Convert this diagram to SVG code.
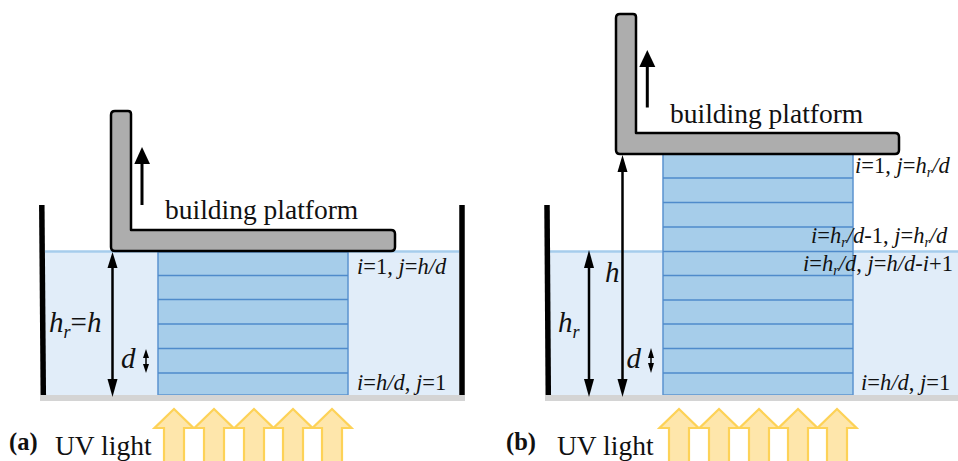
<svg xmlns="http://www.w3.org/2000/svg" width="958" height="461" viewBox="0 0 958 461">
<style>
text{font-family:"Liberation Serif",serif;fill:#111}
.i{font-style:italic}
.n{font-style:normal}
.m{font-size:27.500px}
.s{font-size:22.500px}
.lb{font-size:29px}
.sub{font-size:18px}
.ss{font-size:14px}
.bold{font-size:24.500px;font-weight:bold}
.wall{stroke:#000;stroke-width:5.500;fill:none}
.surf{stroke:#a6cdec;stroke-width:2.500}
.water{fill:#e1edf9}
.floor{fill:#d4d4d4}
.block{fill:#a6cdea;stroke:#5b93cf;stroke-width:1.500}
.layer{stroke:#4f8bcb;stroke-width:1.500;fill:none}
.plat{fill:#adadad;stroke:#000;stroke-width:2.500;stroke-linejoin:round}
.uv{fill:#fee6ab;stroke:#fdd257;stroke-width:2.200}
.dim{stroke:#000;stroke-width:2.500;fill:none}
.lift{stroke:#000;stroke-width:3;fill:none}
.tiny{stroke:#000;stroke-width:1.500;fill:none}
.ah{fill:#000}
</style>
<defs>
<path id="up" class="uv" d="M-10,60V19H-19.500L0,0L19.500,19H10V60"/>
</defs>
<g id="panel-a">
<g id="water-a"><rect class="water" x="45" y="251" width="414" height="144"/><line class="surf" x1="45" y1="251.500" x2="459" y2="251.500"/></g>
<g id="block-a"><rect class="block" x="158" y="252" width="190" height="143"/>
<path class="layer" d="M158 275.500H348M158 299.500H348M158 324H348M158 348.500H348M158 373H348"/></g>
<rect id="floor-a" class="floor" x="40" y="395" width="425" height="6"/>
<path id="wall-a-left" class="wall" d="M41.800 205L43.300 395"/>
<path id="wall-a-right" class="wall" d="M462 205V395"/>
<path id="platform-a" class="plat" d="M115 111H128Q131 111 131 114V230H391Q395 230 395 234V247Q395 251 391 251H115Q111 251 111 247V115Q111 111 115 111Z"/>
<g id="uv-a"><use href="#up" x="174" y="409"/><use href="#up" x="214" y="409"/><use href="#up" x="254" y="409"/><use href="#up" x="293" y="409"/><use href="#up" x="332" y="409"/></g>
</g>
<g id="panel-b">
<g id="water-b"><rect class="water" x="550" y="251" width="408" height="144"/><line class="surf" x1="550" y1="251.500" x2="958" y2="251.500"/></g>
<g id="block-b"><rect class="block" x="663" y="154" width="190" height="241"/>
<path class="layer" d="M663 178H853M663 202.500H853M663 227H853M663 251.500H853M663 275.500H853M663 300H853M663 324H853M663 348.500H853M663 373H853"/></g>
<rect id="floor-b" class="floor" x="545" y="395" width="413" height="6"/>
<path id="wall-b-left" class="wall" d="M547 205L548.300 395"/>
<path id="platform-b" class="plat" d="M620 14H633Q636 14 636 17V133H895Q899 133 899 137V150Q899 154 895 154H620Q616 154 616 150V18Q616 14 620 14Z"/>
<g id="uv-b"><use href="#up" x="679" y="409"/><use href="#up" x="719" y="409"/><use href="#up" x="759" y="409"/><use href="#up" x="798" y="409"/><use href="#up" x="837" y="409"/></g>
</g>
<g id="connectors">
<path class="lift" d="M142 205V160"/><polygon class="ah" points="142,147 134.300,164 150,164"/>
<path class="lift" d="M647.300 107.500V62"/><polygon class="ah" points="647.300,50 639.300,67 655.300,67"/>
<path class="dim" d="M112.500 260V388"/><polygon class="ah" points="112.500,252 107.500,268 117.500,268"/><polygon class="ah" points="112.500,397 107.500,379 117.500,379"/>
<path class="tiny" d="M146 352V370"/><polygon class="ah" points="146,349 143,358 149,358"/><polygon class="ah" points="146,373 143,364 149,364"/>
<path class="dim" d="M589 260V388"/><polygon class="ah" points="589,250 584,268 594,268"/><polygon class="ah" points="589,397 584,379 594,379"/>
<path class="dim" d="M622.500 165V388"/><polygon class="ah" points="622.500,155 617.500,172 627.500,172"/><polygon class="ah" points="622.500,397 617.500,379 627.500,379"/>
<path class="tiny" d="M651 352V370"/><polygon class="ah" points="651,348 648,358 654,358"/><polygon class="ah" points="651,373 648,363 654,363"/>
</g>
<g id="labels">
<text class="m" x="165" y="219">building platform</text>
<text class="m" x="670" y="122.500">building platform</text>
<text class="m" x="55" y="454.500">UV light</text>
<text class="m" x="557" y="454.500">UV light</text>
<text class="bold" x="9" y="450">(a)</text>
<text class="bold" x="506" y="450">(b)</text>
<text class="lb i" x="49" y="331.500">h<tspan class="sub" dy="6">r</tspan><tspan class="n" dy="-6">=</tspan>h</text>
<text class="lb i" x="121" y="368">d</text>
<text class="lb i" x="558" y="331.500">h<tspan class="sub" dy="6">r</tspan></text>
<text class="lb i" x="605" y="282">h</text>
<text class="lb i" x="626.500" y="368">d</text>
<text class="s i" x="357" y="274">i<tspan class="n">=1, </tspan>j<tspan class="n">=</tspan>h/d</text>
<text class="s i" x="357" y="390">i<tspan class="n">=</tspan>h/d<tspan class="n">, </tspan>j<tspan class="n">=1</tspan></text>
<text class="s i" x="855" y="173">i<tspan class="n">=1, </tspan>j<tspan class="n">=</tspan>h<tspan class="ss" dy="4">r</tspan><tspan dy="-4">/d</tspan></text>
<text class="s i" x="811" y="243">i<tspan class="n">=</tspan>h<tspan class="ss" dy="4">r</tspan><tspan dy="-4">/d</tspan><tspan class="n">-1, </tspan>j<tspan class="n">=</tspan>h<tspan class="ss" dy="4">r</tspan><tspan dy="-4">/d</tspan></text>
<text class="s i" x="803" y="271">i<tspan class="n">=</tspan>h<tspan class="ss" dy="4">r</tspan><tspan dy="-4">/d</tspan><tspan class="n">, </tspan>j<tspan class="n">=</tspan>h/d<tspan class="n">-</tspan>i<tspan class="n">+1</tspan></text>
<text class="s i" x="861" y="390">i<tspan class="n">=</tspan>h/d<tspan class="n">, </tspan>j<tspan class="n">=1</tspan></text>
</g>
</svg>
